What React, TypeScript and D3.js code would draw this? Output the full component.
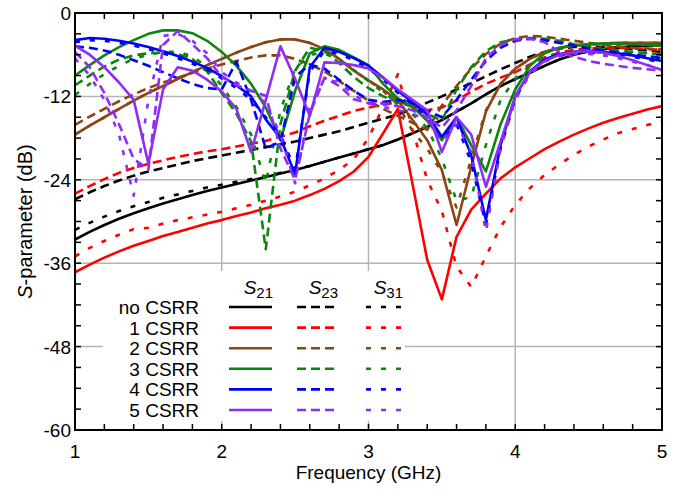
import React from 'react';
import * as d3 from 'd3';

// frequency grid (GHz), 0.1 GHz steps as in the simulation output
const FREQ = [1.0, 1.1, 1.2, 1.3, 1.4, 1.5, 1.6, 1.7, 1.8, 1.9, 2.0, 2.1, 2.2, 2.3, 2.4, 2.5, 2.6, 2.7, 2.8, 2.9, 3.0,
  3.1, 3.2, 3.3, 3.4, 3.5, 3.6, 3.7, 3.8, 3.9, 4.0, 4.1, 4.2, 4.3, 4.4, 4.5, 4.6, 4.7, 4.8, 4.9, 5.0];

// no CSRR
const noS21 = [-32.6, -31.5, -30.5, -29.6, -28.8, -28.1, -27.4, -26.8, -26.2, -25.6, -25.1, -24.6, -24.1, -23.6, -23.1, -22.6, -22.0, -21.4, -20.8, -20.2, -19.6,
  -19.0, -18.2, -17.3, -16.4, -15.4, -14.2, -13.0, -11.7, -10.5, -9.5, -8.6, -7.6, -6.7, -6.0, -5.5, -5.2, -5.0, -4.8, -4.7, -4.6];
const noS23 = [-26.8, -25.8, -24.9, -24.1, -23.4, -22.8, -22.3, -21.8, -21.3, -20.9, -20.5, -20.1, -19.7, -19.3, -18.9, -18.5, -18.0, -17.5, -17.0, -16.4, -15.8,
  -15.2, -14.6, -13.8, -12.9, -12.0, -11.0, -10.1, -9.1, -8.1, -7.2, -6.3, -5.6, -5.1, -4.9, -4.8, -4.9, -5.0, -5.2, -5.4, -5.6];
const noS31 = [-31.2, -30.2, -29.3, -28.5, -27.8, -27.2, -26.6, -26.1, -25.6, -25.1, -24.7, -24.3, -23.9, -23.5, -23.0, -22.5, -22.0, -21.4, -20.8, -20.2, -19.6,
  -19.0, -18.2, -17.3, -16.4, -15.4, -14.2, -13.0, -11.7, -10.5, -9.5, -8.6, -7.6, -6.7, -6.0, -5.5, -5.2, -5.0, -4.8, -4.7, -4.6];

// 1 CSRR
const c1S21 = [-37.3, -36.2, -35.2, -34.3, -33.5, -32.8, -32.1, -31.5, -30.9, -30.3, -29.8, -29.2, -28.7, -28.1, -27.6, -27.0, -26.2, -25.3, -24.2, -22.8, -20.7,
  -17.3, -13.8, -24.6, -35.5, -41.2, -32.2, -28.3, -26.0, -23.8, -22.2, -20.9, -19.6, -18.5, -17.5, -16.6, -15.8, -15.1, -14.5, -13.9, -13.4];
const c1S23 = [-26.0, -24.9, -23.9, -23.0, -22.3, -21.7, -21.2, -20.7, -20.3, -19.9, -19.6, -19.2, -18.8, -18.4, -17.8, -17.2, -16.3, -15.5, -14.8, -14.1, -13.6,
  -13.2, -12.8, -13.3, -14.0, -13.6, -12.6, -11.3, -10.2, -9.3, -8.5, -7.4, -6.4, -5.7, -5.3, -5.1, -5.0, -5.0, -5.1, -5.2, -5.3];
const c1S31 = [-35.0, -33.8, -32.8, -31.9, -31.1, -30.9, -30.3, -29.8, -29.4, -29.0, -28.6, -28.1, -27.6, -27.0, -26.4, -25.7, -24.8, -23.8, -22.6, -21.0, -18.0,
  -13.5, -8.8, -16.8, -24.0, -28.5, -36.5, -39.4, -35.0, -30.8, -27.6, -25.2, -23.3, -21.8, -20.4, -19.2, -18.2, -17.3, -16.7, -16.1, -15.6];

// 2 CSRR
const c2S21 = [-17.5, -16.2, -15.0, -13.8, -12.6, -11.5, -10.5, -9.5, -8.5, -7.5, -6.6, -5.7, -4.9, -4.2, -3.8, -3.8, -4.3, -5.2, -6.6, -8.3, -9.7,
  -11.0, -12.6, -15.4, -18.3, -22.6, -30.5, -22.1, -14.2, -10.2, -8.0, -6.6, -5.6, -5.0, -4.7, -4.5, -4.4, -4.3, -4.3, -4.3, -4.3];
const c2S23 = [-16.1, -14.9, -13.8, -12.7, -11.7, -10.8, -10.0, -9.3, -8.6, -8.0, -7.4, -6.9, -6.4, -6.1, -6.1, -6.6, -7.4, -8.4, -9.8, -11.2, -12.6,
  -13.8, -14.8, -15.8, -16.8, -13.3, -10.5, -8.0, -5.9, -4.4, -3.6, -3.3, -3.4, -3.7, -4.0, -4.3, -4.6, -4.8, -5.0, -5.1, -5.2];
const c2S31 = [-17.5, -16.2, -15.0, -13.8, -12.6, -11.5, -10.5, -9.5, -8.5, -7.5, -6.6, -5.7, -4.9, -4.2, -3.8, -3.8, -4.3, -5.2, -6.6, -8.3, -9.7,
  -11.2, -13.2, -17.0, -19.5, -23.0, -28.0, -21.0, -14.0, -10.2, -8.0, -6.6, -5.6, -5.0, -4.7, -4.5, -4.4, -4.3, -4.3, -4.3, -4.3];

// 3 CSRR
const c3S21 = [-9.0, -7.5, -6.1, -4.9, -3.9, -3.0, -2.5, -2.5, -2.9, -4.0, -5.6, -7.6, -10.2, -13.6, -18.3, -11.2, -5.8, -4.8, -5.3, -6.4, -7.5,
  -10.2, -12.3, -13.5, -15.5, -18.3, -15.0, -19.0, -22.8, -16.0, -11.0, -7.6, -5.8, -5.0, -4.7, -4.5, -4.4, -4.4, -4.5, -4.6, -4.7];
const c3S23 = [-10.4, -9.0, -7.7, -6.7, -6.1, -5.8, -5.7, -5.9, -6.6, -8.4, -11.5, -14.5, -18.5, -34.0, -16.0, -8.3, -5.0, -5.5, -7.2, -9.2, -10.8,
  -12.0, -12.8, -13.5, -14.5, -15.5, -11.0, -7.8, -5.5, -4.2, -3.8, -3.6, -3.7, -4.0, -4.5, -4.9, -5.2, -5.4, -5.6, -5.8, -6.0];
const c3S31 = [-11.8, -10.2, -8.8, -7.6, -6.6, -6.0, -5.6, -5.6, -6.2, -7.8, -10.5, -13.5, -17.5, -24.5, -14.0, -8.0, -6.0, -5.8, -6.8, -8.2, -9.8,
  -11.4, -13.0, -14.6, -16.5, -21.0, -27.0, -26.5, -19.0, -12.5, -9.5, -7.5, -6.3, -5.8, -5.6, -5.6, -5.7, -5.9, -6.1, -6.3, -6.5];

// 4 CSRR
const c4S21 = [-3.9, -3.6, -3.7, -4.0, -4.4, -4.9, -5.5, -6.2, -7.0, -7.9, -9.1, -10.4, -12.0, -15.3, -18.0, -23.2, -7.8, -5.0, -5.6, -6.5, -7.6,
  -9.3, -11.2, -12.8, -14.6, -17.8, -15.0, -20.5, -29.8, -19.0, -12.0, -8.4, -6.7, -5.9, -5.6, -5.5, -5.6, -5.8, -6.1, -6.5, -6.9];
const c4S23 = [-4.8, -5.0, -5.4, -6.0, -6.8, -7.6, -8.5, -9.4, -10.2, -10.8, -11.0, -7.0, -12.5, -19.5, -18.5, -9.2, -7.4, -8.0, -9.6, -11.2, -12.5,
  -12.8, -12.5, -13.0, -14.0, -15.0, -12.5, -9.6, -6.9, -5.0, -4.0, -3.7, -3.9, -4.3, -4.7, -5.1, -5.4, -5.7, -6.0, -6.2, -6.5];
const c4S31 = [-4.2, -3.9, -4.0, -4.3, -4.7, -5.2, -5.8, -6.5, -7.3, -8.2, -9.4, -10.8, -12.5, -15.0, -17.5, -22.5, -8.5, -5.4, -5.9, -6.8, -8.0,
  -9.6, -11.5, -13.2, -15.0, -18.2, -16.0, -21.5, -30.5, -19.5, -12.3, -8.6, -6.9, -6.1, -5.8, -5.7, -5.8, -6.0, -6.3, -6.7, -7.1];

// 5 CSRR
const c5S21 = [-4.7, -6.0, -7.8, -10.0, -12.5, -21.7, -11.0, -7.8, -8.3, -9.6, -11.3, -13.8, -20.0, -12.5, -4.8, -9.5, -14.8, -7.1, -7.2, -7.5, -8.0,
  -9.3, -11.0, -12.5, -14.0, -20.0, -15.0, -17.5, -25.0, -18.5, -12.0, -8.5, -6.9, -6.0, -5.6, -5.5, -5.7, -6.2, -6.8, -7.5, -8.2];
const c5S23 = [-5.6, -7.8, -11.5, -16.0, -21.0, -22.5, -4.6, -2.6, -4.5, -6.5, -9.2, -10.4, -11.2, -11.9, -19.5, -24.0, -14.5, -9.3, -10.5, -12.4, -13.0,
  -13.0, -13.4, -14.0, -15.0, -16.5, -14.0, -10.5, -6.5, -4.6, -3.8, -3.7, -4.2, -5.6, -6.3, -6.9, -7.3, -7.6, -7.9, -8.1, -8.3];
const c5S31 = [-6.5, -9.0, -12.5, -17.5, -26.3, -12.5, -3.3, -3.0, -4.0, -5.8, -8.5, -10.0, -11.2, -13.0, -17.5, -24.5, -13.5, -9.5, -10.0, -11.8, -13.0,
  -13.5, -14.0, -14.5, -15.5, -18.5, -16.0, -20.0, -31.5, -19.5, -12.5, -8.8, -7.0, -6.2, -5.9, -5.9, -6.1, -6.5, -7.0, -7.5, -8.0];

const LABELS = ['no CSRR', '1 CSRR', '2 CSRR', '3 CSRR', '4 CSRR', '5 CSRR'];
const COLORS = ['#000000', '#ff0000', '#8b4513', '#0a870a', '#0000ff', '#8f2cf5'];
const PARAMS = ['21', '23', '31'];
const DASHES = [null, '9,5', '5,10'];
const X_TICKS = [1, 2, 3, 4, 5];
const Y_TICKS = [0, -12, -24, -36, -48, -60];

const SERIES = [
  [noS21, noS23, noS31],
  [c1S21, c1S23, c1S31],
  [c2S21, c2S23, c2S31],
  [c3S21, c3S23, c3S31],
  [c4S21, c4S23, c4S31],
  [c5S21, c5S23, c5S31],
];

const W = 683;
const H = 492;
const L = 75, R = 662, T = 13, B = 430;
const FONT = '"Liberation Sans", Arial, Helvetica, sans-serif';

export default function App() {
  const x = d3.scaleLinear().domain([1, 5]).range([L, R]);
  const y = d3.scaleLinear().domain([-60, 0]).range([B, T]);
  const line = d3.line<number>().x((_, i) => x(FREQ[i])).y(d => y(d));

  const xMinor = d3.range(1, 5.0001, 0.2);
  const yMinor = d3.range(-60, 0.0001, 3);
  const tick = 6;

  // legend geometry
  const legX = 103, legY = 271, legW = 302, legH = 150;
  const rowY = (i: number) => 307 + i * 20.6;
  const colX = [[229, 272], [297, 337], [366, 402]];

  return (
    <svg width={W} height={H} style={{ position: 'absolute', left: 0, top: 0 }} fontFamily={FONT}>
      <defs>
        <clipPath id="plot">
          <rect x={L} y={T} width={R - L} height={B - T} />
        </clipPath>
      </defs>
      <rect x={0} y={0} width={W} height={H} fill="#fff" />

      {/* grid */}
      <g stroke="#b4b4b4" strokeWidth={1.5}>
        {X_TICKS.slice(1, -1).map(t => (
          <line key={'gx' + t} x1={x(t)} x2={x(t)} y1={T} y2={B} />
        ))}
        {Y_TICKS.slice(1, -1).map(t => (
          <line key={'gy' + t} x1={L} x2={R} y1={y(t)} y2={y(t)} />
        ))}
      </g>

      {/* legend box covers the grid */}
      <rect x={legX} y={legY} width={legW} height={legH} fill="#fff" />

      {/* curves */}
      <g clipPath="url(#plot)" fill="none" strokeWidth={2.6} strokeLinejoin="round">
        {SERIES.map((group, ci) =>
          group.map((vals, pi) => (
            <path
              key={ci + '-' + pi}
              d={line(vals) || ''}
              stroke={COLORS[ci]}
              strokeDasharray={DASHES[pi] || undefined}
            />
          ))
        )}
      </g>

      {/* frame and ticks */}
      <g stroke="#000" strokeWidth={1.5}>
        {xMinor.map(t => (
          <g key={'tx' + t}>
            <line x1={x(t)} x2={x(t)} y1={B} y2={B - tick} />
            <line x1={x(t)} x2={x(t)} y1={T} y2={T + tick} />
          </g>
        ))}
        {yMinor.map(t => (
          <g key={'ty' + t}>
            <line x1={L} x2={L + tick} y1={y(t)} y2={y(t)} />
            <line x1={R} x2={R - tick} y1={y(t)} y2={y(t)} />
          </g>
        ))}
      </g>
      <rect x={L} y={T} width={R - L} height={B - T} fill="none" stroke="#000" strokeWidth={2} />

      {/* tick labels */}
      <g fontSize={19} fill="#000">
        {X_TICKS.map(t => (
          <text key={'lx' + t} x={x(t)} y={458} textAnchor="middle">{t}</text>
        ))}
        {Y_TICKS.map(t => (
          <text key={'ly' + t} x={71} y={y(t) + 7} textAnchor="end">{t}</text>
        ))}
      </g>

      {/* axis titles */}
      <text x={(L + R) / 2} y={479} textAnchor="middle" fontSize={19}>Frequency (GHz)</text>
      <text transform={`translate(32,${(T + B) / 2}) rotate(-90)`} textAnchor="middle" fontSize={20}>
        <tspan fontStyle="italic">S</tspan>-parameter (dB)
      </text>

      {/* legend */}
      <g fontSize={19}>
        {PARAMS.map((p, pi) => (
          <text key={'h' + p} x={colX[pi][1] + 1} y={294} textAnchor="end">
            <tspan fontStyle="italic">S</tspan>
            <tspan fontSize={15} dy={4}>{p}</tspan>
          </text>
        ))}
        {LABELS.map((lab, ci) => (
          <g key={'leg' + ci}>
            <text x={199} y={rowY(ci) + 7} textAnchor="end">{lab}</text>
            {PARAMS.map((p, pi) => (
              <line
                key={p}
                x1={colX[pi][0]}
                x2={colX[pi][1]}
                y1={rowY(ci)}
                y2={rowY(ci)}
                stroke={COLORS[ci]}
                strokeWidth={2.6}
                strokeDasharray={DASHES[pi] || undefined}
              />
            ))}
          </g>
        ))}
      </g>
    </svg>
  );
}
